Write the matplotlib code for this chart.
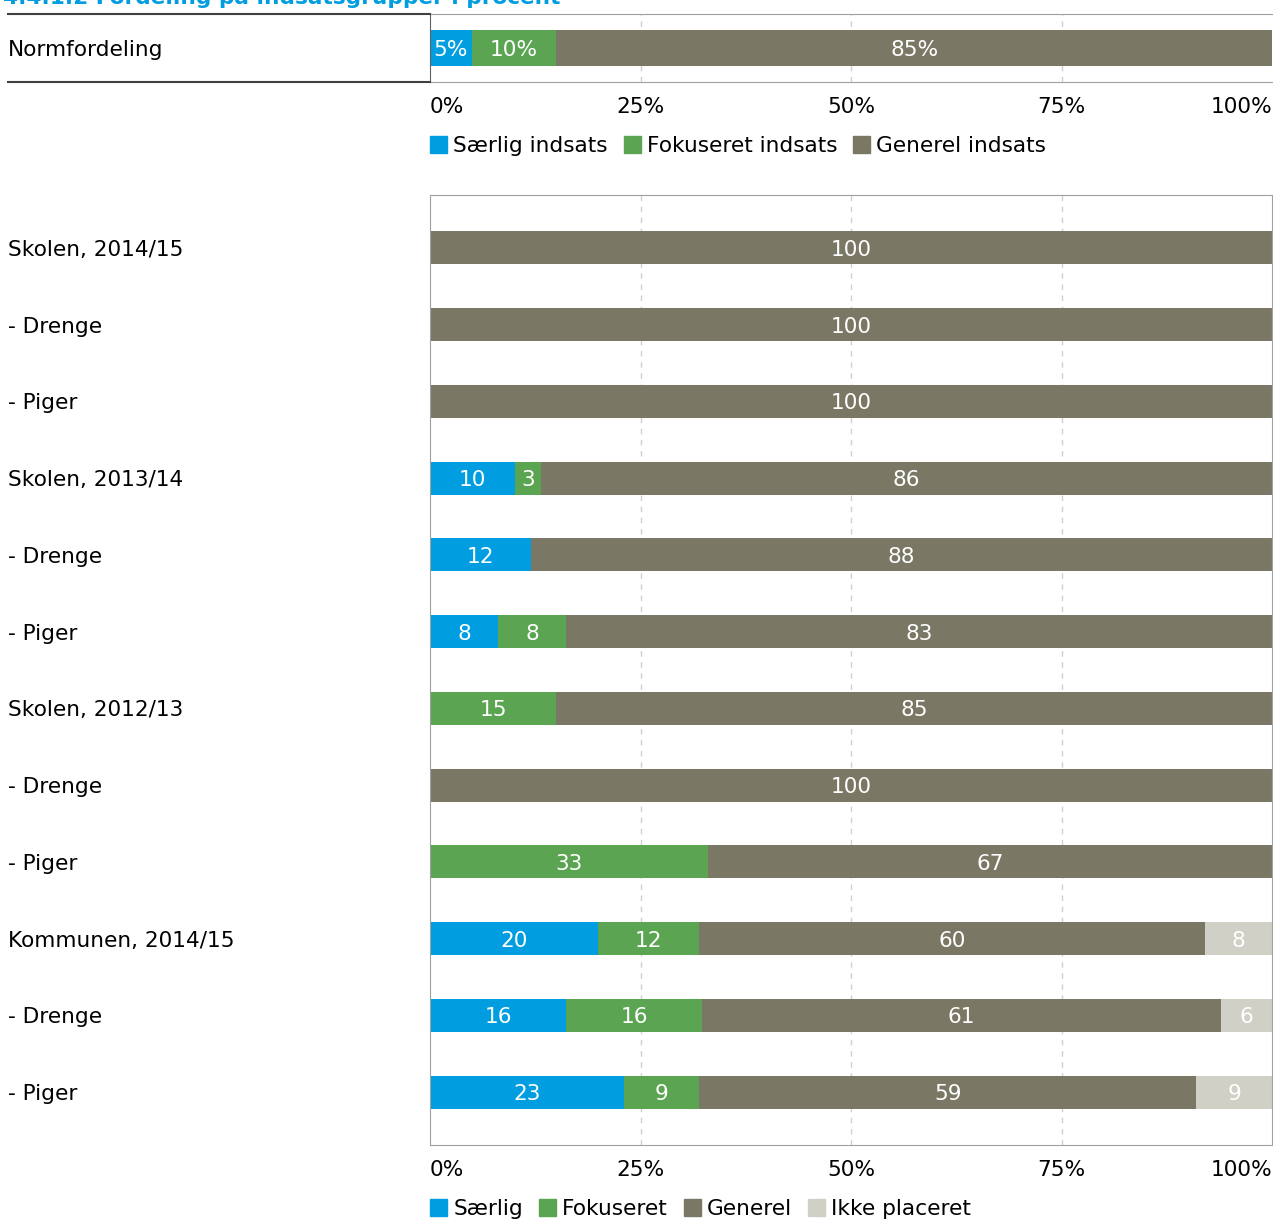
import matplotlib.pyplot as plt
from matplotlib.lines import Line2D
from matplotlib.patches import Patch

W, H = 1273, 1221

title = "4.4.1.2 Fordeling på indsatsgrupper i procent"

# top chart: norm distribution
norm_labels = ["Særlig indsats", "Fokuseret indsats", "Generel indsats"]
norm_values = [5, 10, 85]

# bottom chart
categories = ["Skolen, 2014/15", "- Drenge", "- Piger",
              "Skolen, 2013/14", "- Drenge", "- Piger",
              "Skolen, 2012/13", "- Drenge", "- Piger",
              "Kommunen, 2014/15", "- Drenge", "- Piger"]
saerlig = [0, 0, 0, 10, 12, 8, 0, 0, 0, 20, 16, 23]
fokuseret = [0, 0, 0, 3, 0, 8, 15, 0, 33, 12, 16, 9]
generel = [100, 100, 100, 86, 88, 83, 85, 100, 67, 60, 61, 59]
ikke_placeret = [0, 0, 0, 0, 0, 0, 0, 0, 0, 8, 6, 9]
series_names = ["Særlig", "Fokuseret", "Generel", "Ikke placeret"]

colors = ["#009ee0", "#5ba552", "#7a7865", "#d0d0c6"]
FS = 15.6


def px(x0, y0, x1, y1):
    # pixel box -> figure fraction rect
    return [x0 / W, 1 - y1 / H, (x1 - x0) / W, (y1 - y0) / H]


def style_xaxis(ax):
    ax.set_xlim(0, 100)
    ax.set_xticks([0, 25, 50, 75, 100])
    ax.set_xticklabels(["0%", "25%", "50%", "75%", "100%"], fontsize=FS)
    labs = ax.get_xticklabels()
    labs[0].set_ha("left")
    labs[-1].set_ha("right")
    ax.tick_params(axis="x", length=0, pad=11)
    for x in [25, 50, 75]:
        ax.axvline(x, color="#d0d0d0", linestyle=(0, (4, 4)), linewidth=1, zorder=0)
    for s in ax.spines.values():
        s.set_color("#a0a0a0")


fig = plt.figure(figsize=(W / 100, H / 100), dpi=100)
fig.text(3 / W, 1 - 4 / H, title, color="#009ee0", fontsize=FS,
         fontweight="bold", va="baseline", ha="left")

# --- top axes ---
ax1 = fig.add_axes(px(430, 14, 1272, 82))
left = 0
for v, c in zip(norm_values, colors):
    ax1.barh(0, v, left=left, height=0.515, color=c, zorder=2)
    ax1.text(left + v / 2, 0, f"{v}%", color="white", ha="center",
             va="center_baseline", fontsize=FS, zorder=3)
    left += v
ax1.set_ylim(0.5, -0.5)
ax1.set_yticks([0])
ax1.set_yticklabels(["Normfordeling"], fontsize=FS, ha="left")
ax1.tick_params(axis="y", length=0, pad=(430 - 8) * 0.72)
style_xaxis(ax1)
ax1.spines["left"].set_color("#606060")
ax1.spines["right"].set_visible(False)
for yy in [14, 82]:
    fig.add_artist(Line2D([8 / W, 430 / W], [1 - yy / H, 1 - yy / H],
                          color="#404040", linewidth=1.5))

h1 = [Patch(color=c) for c in colors[:3]]
fig.legend(h1, norm_labels, loc="center left", bbox_to_anchor=(430 / W, 1 - 146 / H),
           ncol=3, frameon=False, fontsize=FS, handlelength=0.8, handleheight=0.8,
           handletextpad=0.28, columnspacing=0.72, borderpad=0, borderaxespad=0)

# --- bottom axes ---
ax2 = fig.add_axes(px(430, 195, 1272, 1145))
rows = list(range(len(categories)))
series = [saerlig, fokuseret, generel, ikke_placeret]
totals = [sum(vals) for vals in zip(*series)]
lefts = [0.0] * len(categories)
for vals, c in zip(series, colors):
    widths = [v / t * 100 for v, t in zip(vals, totals)]
    ax2.barh(rows, widths, left=lefts, height=0.43, color=c, zorder=2)
    for i, (v, w) in enumerate(zip(vals, widths)):
        if v > 0:
            ax2.text(lefts[i] + w / 2, i, str(v), color="white", ha="center",
                     va="center_baseline", fontsize=FS, zorder=3)
    lefts = [l + w for l, w in zip(lefts, widths)]
ax2.set_ylim(11.69, -0.69)
ax2.set_yticks(rows)
ax2.set_yticklabels(categories, fontsize=FS, ha="left")
ax2.tick_params(axis="y", length=0, pad=(430 - 8) * 0.72)
style_xaxis(ax2)

h2 = [Patch(color=c) for c in colors]
fig.legend(h2, series_names, loc="center left", bbox_to_anchor=(430 / W, 1 - 1209 / H),
           ncol=4, frameon=False, fontsize=FS, handlelength=0.8, handleheight=0.8,
           handletextpad=0.28, columnspacing=0.72, borderpad=0, borderaxespad=0)

fig.savefig("out.png", dpi=100)
